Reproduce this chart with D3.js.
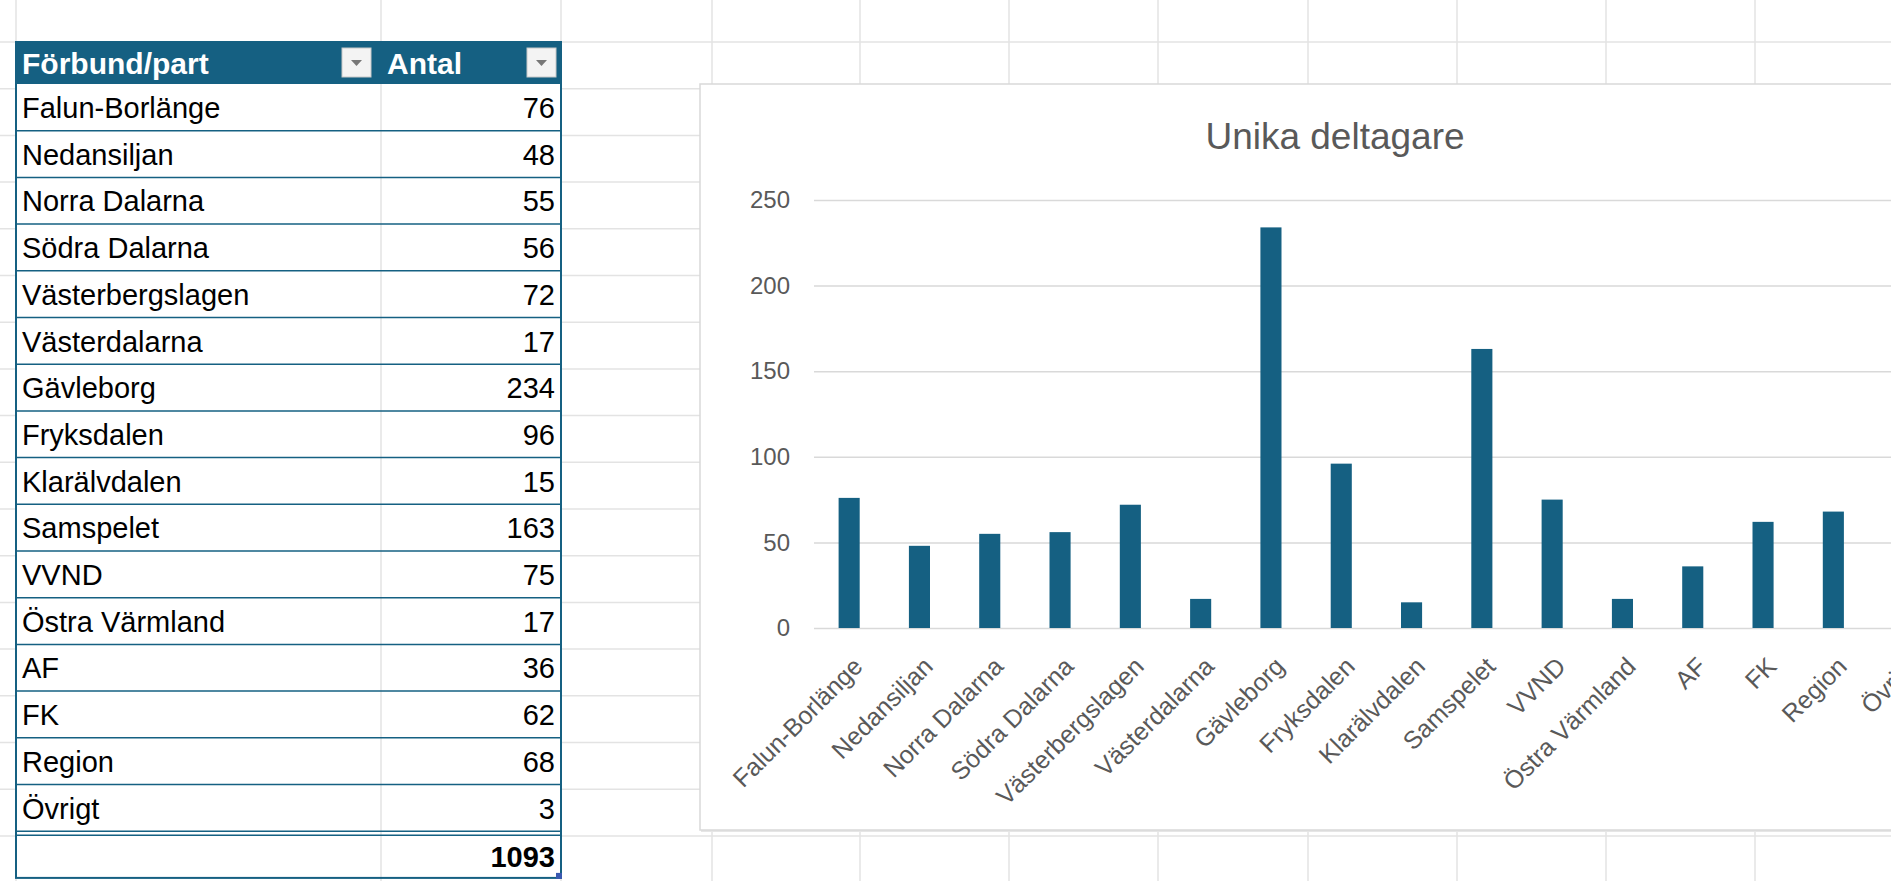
<!DOCTYPE html>
<html>
<head>
<meta charset="utf-8">
<script src="https://cdn.jsdelivr.net/npm/d3@7"></script>
<style>
  html, body { margin: 0; padding: 0; background: #fff; overflow: hidden; }
  svg { display: block; }
</style>
</head>
<body>
<svg id="sheet" width="1891" height="881"></svg>
<script>
// data
const categories = ["Falun-Borlänge", "Nedansiljan", "Norra Dalarna", "Södra Dalarna", "Västerbergslagen",
  "Västerdalarna", "Gävleborg", "Fryksdalen", "Klarälvdalen", "Samspelet", "VVND", "Östra Värmland",
  "AF", "FK", "Region", "Övrigt"];
const antal = [76, 48, 55, 56, 72, 17, 234, 96, 15, 163, 75, 17, 36, 62, 68, 3];
const yTicks = [0, 50, 100, 150, 200, 250];
const headers = ["Förbund/part", "Antal"];
const chartTitle = "Unika deltagare";

const W = 1891, H = 881;
const blue = "#156082";
const font = "'Liberation Sans', Arial, sans-serif";
const svg = d3.select("#sheet");

// spreadsheet grid
const rowH = 46.7;
const rowLines = d3.range(-1, 19).map(i => 42 + i * rowH);
const colLines = [16, 381, 561, 712, 860, 1009, 1158, 1308, 1457, 1606, 1755];
const grid = svg.append("g").attr("stroke", "#e3e3e3").attr("stroke-width", 1.5);
grid.selectAll(".hl").data(rowLines).enter().append("line")
  .attr("x1", 0).attr("x2", W).attr("y1", d => d).attr("y2", d => d);
grid.selectAll(".vl").data(colLines).enter().append("line")
  .attr("x1", d => d).attr("x2", d => d).attr("y1", 0).attr("y2", H);

// table
const tX0 = 16, tX1 = 561, tMid = 381, tTop = 42, hdrH = 42;
const body = svg.append("g");
const bodyTop = tTop + hdrH;
body.append("rect").attr("x", tX0).attr("y", bodyTop).attr("width", tX1 - tX0)
  .attr("height", rowH * (categories.length + 1)).attr("fill", "#fff");
body.append("line").attr("x1", tMid).attr("x2", tMid).attr("y1", bodyTop).attr("y2", bodyTop + rowH * (categories.length + 1))
  .attr("stroke", "#e3e3e3").attr("stroke-width", 1.5);

// header
body.append("rect").attr("x", tX0).attr("y", tTop).attr("width", tX1 - tX0).attr("height", hdrH).attr("fill", blue);
const hdrX = [tX0 + 6, tMid + 6];
const btnX = [342, 527];
headers.forEach((h, i) => {
  body.append("text").attr("x", hdrX[i]).attr("y", tTop + 32).text(h)
    .attr("fill", "#fff").attr("font-weight", "bold").attr("font-size", 30).attr("font-family", font);
  const b = body.append("g").attr("transform", `translate(${btnX[i]},${tTop + 6})`);
  b.append("rect").attr("width", 29).attr("height", 29).attr("fill", "#f3f3f3").attr("stroke", "#c8c8c8");
  b.append("path").attr("d", "M9,12 L20,12 L14.5,18 Z").attr("fill", "#777");
});

// rows
const rows = body.selectAll(".row").data(categories).enter().append("g")
  .attr("transform", (d, i) => `translate(0,${bodyTop + i * rowH})`);
rows.append("line").attr("x1", tX0).attr("x2", tX1).attr("y1", rowH).attr("y2", rowH)
  .attr("stroke", blue).attr("stroke-width", 1.5);
rows.append("text").attr("x", tX0 + 6).attr("y", 34).text(d => d)
  .attr("font-size", 29).attr("font-family", font).attr("fill", "#000");
rows.append("text").attr("x", tX1 - 6).attr("y", 34).attr("text-anchor", "end")
  .text((d, i) => antal[i]).attr("font-size", 29).attr("font-family", font).attr("fill", "#000");

// total row
const totTop = bodyTop + categories.length * rowH;
body.append("line").attr("x1", tX0).attr("x2", tX1).attr("y1", totTop + 4).attr("y2", totTop + 4)
  .attr("stroke", blue).attr("stroke-width", 1.5);
body.append("text").attr("x", tX1 - 6).attr("y", totTop + 36).attr("text-anchor", "end")
  .text(d3.sum(antal)).attr("font-weight", "bold").attr("font-size", 29).attr("font-family", font);
body.append("rect").attr("x", tX0).attr("y", tTop).attr("width", tX1 - tX0)
  .attr("height", hdrH + rowH * (categories.length + 1)).attr("fill", "none").attr("stroke", blue).attr("stroke-width", 2);
body.append("rect").attr("x", tX1 - 5).attr("y", totTop + rowH - 5).attr("width", 6).attr("height", 6).attr("fill", "#3a59b0");

// chart box
const cX = 700, cY = 84, cB = 830;
svg.append("rect").attr("x", cX + 1).attr("y", cY + 2).attr("width", W).attr("height", cB - cY)
  .attr("fill", "#e6e6e6");
svg.append("rect").attr("x", cX).attr("y", cY).attr("width", W).attr("height", cB - cY)
  .attr("fill", "#fff").attr("stroke", "#d9d9d9").attr("stroke-width", 1.5);

svg.append("text").attr("x", 1335).attr("y", 149).attr("text-anchor", "middle").text(chartTitle)
  .attr("font-size", 37).attr("font-family", font).attr("fill", "#595959");

// scales
const plotL = 814, step = 70.3;
const x = d3.scaleBand().domain(categories).range([plotL, plotL + step * categories.length])
  .paddingInner(0.7).paddingOuter(0.35);
const y = d3.scaleLinear().domain([0, 250]).range([628, 200]);

// gridlines + y labels
const yAxis = svg.append("g").attr("transform", `translate(${plotL},0)`)
  .call(d3.axisLeft(y).tickValues(yTicks).tickSize(-(W - plotL)).tickPadding(24));
yAxis.select(".domain").remove();
yAxis.selectAll(".tick line").attr("stroke", "#d9d9d9").attr("stroke-width", 1.5);
yAxis.selectAll(".tick text").attr("fill", "#595959").attr("font-size", 24).attr("font-family", font);

// bars
svg.selectAll(".bar").data(categories).enter().append("rect")
  .attr("class", "bar")
  .attr("x", d => x(d))
  .attr("y", (d, i) => y(antal[i]))
  .attr("width", x.bandwidth())
  .attr("height", (d, i) => y(0) - y(antal[i]))
  .attr("fill", blue);

// x axis labels
const xAxis = svg.append("g").attr("transform", `translate(0,${y(0)})`)
  .call(d3.axisBottom(x).tickSize(0).tickPadding(0));
xAxis.select(".domain").remove();
xAxis.selectAll(".tick text")
  .attr("text-anchor", "end")
  .attr("dy", 0)
  .attr("transform", "translate(15,40) rotate(-45)")
  .attr("fill", "#595959").attr("font-size", 25).attr("font-family", font);
</script>
</body>
</html>
